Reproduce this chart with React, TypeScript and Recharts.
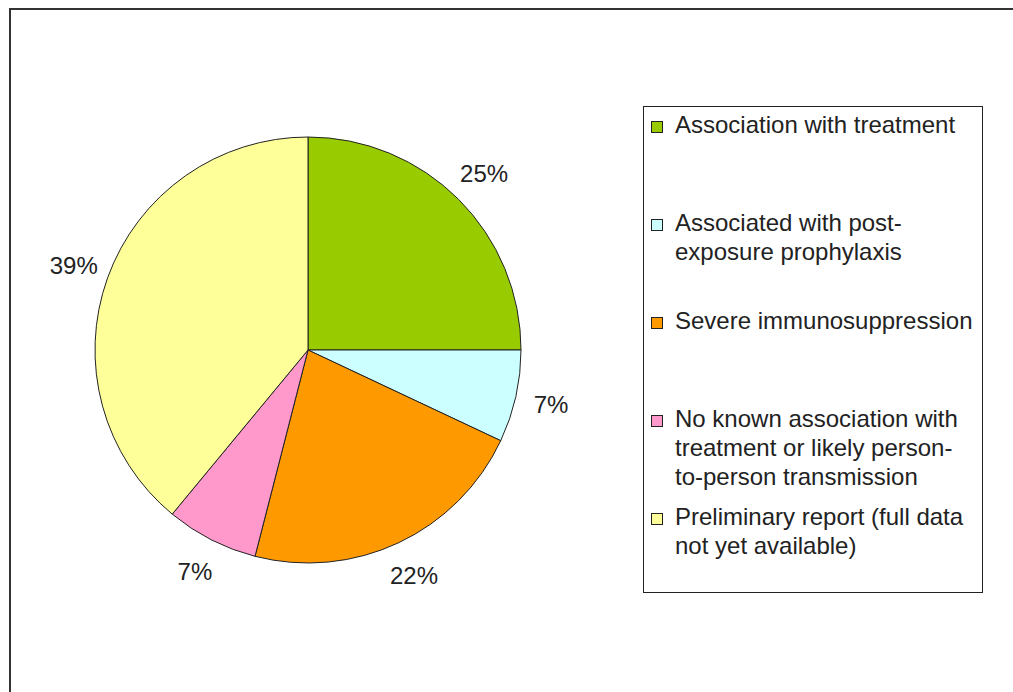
import { PieChart, Pie, Cell, Legend } from "recharts";

const categories = [
    "Association with treatment",
    "Associated with post-exposure prophylaxis",
    "Severe immunosuppression",
    "No known association with treatment or likely person-to-person transmission",
    "Preliminary report (full data not yet available)",
];
const legendLines = [
    ["Association with treatment"],
    ["Associated with post-", "exposure prophylaxis"],
    ["Severe immunosuppression"],
    ["No known association with", "treatment or likely person-", "to-person transmission"],
    ["Preliminary report (full data", "not yet available)"],
];
const shares = [25, 7, 22, 7, 39];
const colors = ["#99cc00", "#ccffff", "#ff9900", "#ff99cc", "#ffff99"];

const data = categories.map((name, i) => ({ name, value: shares[i] }));

const FONT = '"Liberation Sans", Arial, sans-serif';
const RAD = Math.PI / 180;

function renderLabel(props: any) {
    const { cx, cy, midAngle, outerRadius, value } = props;
    const r = outerRadius + 36;
    const x = cx + r * Math.cos(-midAngle * RAD);
    const y = cy + r * Math.sin(-midAngle * RAD);
    return (
        <text x={x} y={y} textAnchor="middle" dominantBaseline="central" fill="#222" fontSize={24} fontFamily={FONT}>
            {value}%
        </text>
    );
}

function renderLegend(props: any) {
    // keep the slice order, not the sorted one
    const payload = [...(props.payload || [])].sort(
        (a: any, b: any) => categories.indexOf(a.value) - categories.indexOf(b.value)
    );
    return (
        <div
            style={{
                boxSizing: "border-box",
                width: 340,
                height: 487,
                border: "1.5px solid #222",
                paddingTop: 3,
                background: "#fff",
                fontFamily: FONT,
                fontSize: 24,
                color: "#222",
            }}
        >
            {payload.map((entry: any, i: number) => {
                const idx = categories.indexOf(entry.value);
                const lines = legendLines[idx >= 0 ? idx : i];
                return (
                    <div key={i} style={{ height: 98, display: "flex", alignItems: "flex-start" }}>
                        <span
                            style={{
                                display: "block",
                                flex: "0 0 auto",
                                boxSizing: "border-box",
                                width: 12,
                                height: 12,
                                marginLeft: 7,
                                marginTop: 11,
                                background: entry.color,
                                border: "1px solid #222",
                            }}
                        />
                        <div style={{ marginLeft: 12, lineHeight: "29px", whiteSpace: "nowrap" }}>
                            {lines.map((l, j) => (
                                <div key={j}>{l}</div>
                            ))}
                        </div>
                    </div>
                );
            })}
        </div>
    );
}

export default function App() {
    return (
        <div style={{ position: "absolute", left: 0, top: 0, width: 1013, height: 692, overflow: "hidden", background: "#fff" }}>
            <div
                style={{
                    position: "absolute",
                    left: 9,
                    top: 8,
                    width: 1200,
                    height: 900,
                    borderLeft: "2px solid #333",
                    borderTop: "2px solid #333",
                }}
            />
            <div style={{ position: "absolute", left: 0, top: 0 }}>
                <PieChart width={1013} height={692} margin={{ top: 0, right: 0, bottom: 0, left: 0 }}>
                    <Pie
                        data={data}
                        dataKey="value"
                        nameKey="name"
                        cx={308}
                        cy={350}
                        outerRadius={213}
                        startAngle={90}
                        endAngle={-270}
                        stroke="#222"
                        strokeWidth={1}
                        label={renderLabel}
                        labelLine={false}
                        isAnimationActive={false}
                    >
                        {data.map((d, i) => (
                            <Cell key={d.name} fill={colors[i]} />
                        ))}
                    </Pie>
                    <Legend
                        content={renderLegend}
                        wrapperStyle={{ left: 643, top: 106, width: 340, height: 487 }}
                    />
                </PieChart>
            </div>
        </div>
    );
}
